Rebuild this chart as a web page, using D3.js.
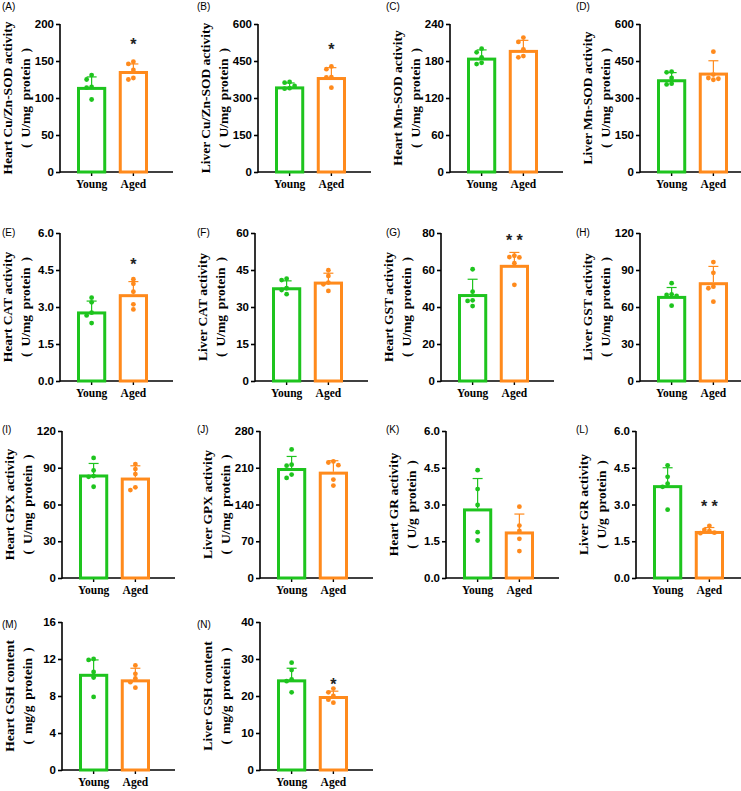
<!DOCTYPE html>
<html><head><meta charset="utf-8">
<script src="https://cdn.jsdelivr.net/npm/d3@7"></script>
<style>body{margin:0;background:#fff}svg{display:block}</style>
</head><body>
<svg id="c" width="741" height="791"></svg>
<script>
const panelLetters = ["(A)","(B)","(C)","(D)","(E)","(F)","(G)","(H)","(I)","(J)","(K)","(L)","(M)","(N)"];
const yTitles = ["Heart Cu/Zn-SOD activity","Liver Cu/Zn-SOD activity","Heart Mn-SOD activity","Liver Mn-SOD activity",
  "Heart CAT activity","Liver CAT activity","Heart GST activity","Liver GST activity",
  "Heart GPX activity","Liver GPX activity","Heart GR activity","Liver GR activity",
  "Heart GSH content","Liver GSH content"];
const yUnits = ["( U/mg protein )","( U/mg protein )","( U/mg protein )","( U/mg protein )",
  "( U/mg protein )","( U/mg protein )","( U/mg protein )","( U/mg protein )",
  "( U/mg protein )","( U/mg protein )","( U/g protein )","( U/g protein )",
  "( mg/g protein )","( mg/g protein )"];
const categories = ["Young","Aged"];
const yMax = [200,600,240,600,6,60,80,120,120,280,6,6,16,40];
const yStep = [50,150,60,150,1.5,15,20,30,30,70,1.5,1.5,4,10];
const youngMean = [115,347,185.5,376,2.82,38.0,47,69,84.5,209.5,2.84,3.79,10.4,24.5];
const youngSD = [13.5,14,12.5,27,0.42,2.6,8,6.8,9,22,1.22,0.71,1.5,3];
const agedMean = [136.5,385,198,403,3.52,40.3,62.8,80.1,82,202.6,1.90,1.92,9.8,20];
const agedSD = [9.5,38,15.5,48,0.51,3.4,6.7,12.8,9.6,20.8,0.71,0.14,1.2,1.3];
const youngPoints = [
  [131,125,115,114,98],[365,362,349,340,338],[200,194,186,177,175],[407,404,381,358,355],
  [3.38,3.19,2.77,2.66,2.35],[41.5,40.9,37.6,36.9,35.2],[60.4,48.3,43.6,43.3,40.5],[79.3,70.3,69.8,69,61.1],
  [98,87.8,83.2,82.6,74.5],[245,215.8,214,197,190.7],[4.40,3.63,2.98,1.87,1.53],[4.60,4.13,3.85,3.72,2.79],
  [12.0,11.9,10.6,10.0,7.9],[29,27,24.5,24,21]];
const agedPoints = [
  [149,146,138,127,125],[428,417,385,384,342],[218,211,199,188,186],[488,395,381,378,374],
  [4.13,3.94,3.62,3.11,2.90],[44.9,42.6,39.9,39.2,36.5],[67.7,67.0,66.8,63.7,52.0],[96.4,87.7,76.5,75.2,64.3],
  [93,88.9,84.8,74,71.8],[222,220,215,187.5,176],[2.91,2.14,1.92,1.60,1.10],[2.13,1.96,1.92,1.85,1.83],
  [11.3,10.4,9.9,9.5,8.9],[22,21,20,19,18.2]];
const sigMarks = ["*","*","","","*","","* *","","","","","* *","","*"];
const sigValue = [177,509,0,0,4.85,0,78,0,0,0,0,3.05,0,24];

// layout (positions only)
const axisXs = [60,258,450,640, 60,255,441,640, 62,260,446,636, 62,260];
const rowTop = [24,233,431,622];
const rowBottom = [172,381,578,770];
const letterX = [2,197,386,576];
const letterY = [10,236,433,628];
const green = "#1ec41e", orange = "#ff8a1c";
const colors = [green, orange];

const svg = d3.select("#c");

panelLetters.forEach((lab, i) => {
  const row = Math.floor(i/4), col = i%4;
  const ax = axisXs[i], top = rowTop[row], bot = rowBottom[row];
  const g = svg.append("g");
  const y = d3.scaleLinear().domain([0, yMax[i]]).range([bot, top]);
  const x = d3.scaleBand().domain(categories).range([ax+17, ax+88]).paddingInner(0.3).paddingOuter(0);
  const ticks = d3.range(0, yMax[i] + yStep[i]/2, yStep[i]);
  const fmt = yMax[i] <= 10 ? d3.format(".1f") : d3.format("d");

  svg.append("text").attr("x", letterX[col]).attr("y", letterY[row])
    .attr("font-family","Liberation Sans, Arial, sans-serif").attr("font-size",10).text(lab);

  const yAxis = d3.axisLeft(y).tickValues(ticks).tickFormat(fmt).tickSize(4).tickSizeOuter(0);
  const ya = g.append("g").attr("transform",`translate(${ax},0)`).call(yAxis);
  ya.select(".domain").attr("stroke","#000").attr("stroke-width",1.6).attr("d",`M0,${top}V${bot+0.8}`);
  ya.selectAll(".tick line").attr("stroke-width",1.6);
  ya.selectAll(".tick text").attr("font-family","Liberation Sans, Arial, sans-serif")
    .attr("font-weight","bold").attr("font-size",11.5).attr("fill","#000").attr("x",-6);

  const xAxis = d3.axisBottom(x).tickSize(4).tickSizeOuter(0);
  const xa = g.append("g").attr("transform",`translate(0,${bot})`).call(xAxis);
  xa.select(".domain").attr("stroke-width",1.6).attr("d",`M${ax},0H${ax+113}`);
  xa.selectAll(".tick line").attr("stroke-width",1.4);
  xa.selectAll(".tick text").attr("font-family","Liberation Serif, Times New Roman, serif")
    .attr("font-weight","bold").attr("font-size",11.5).attr("fill","#000").attr("y",8).attr("dy","0.71em");

  const cy = (top+bot)/2;
  g.append("text").attr("transform",`translate(${ax-48},${cy}) rotate(-90)`).attr("text-anchor","middle")
    .attr("font-family","Liberation Serif, Times New Roman, serif").attr("font-weight","bold").attr("font-size",13.5)
    .text(yTitles[i]);
  g.append("text").attr("transform",`translate(${ax-30},${cy}) rotate(-90)`).attr("text-anchor","middle")
    .attr("font-family","Liberation Serif, Times New Roman, serif").attr("font-weight","bold").attr("font-size",13.5)
    .attr("word-spacing", 2.5)
    .text(yUnits[i]);

  const means = [youngMean[i], agedMean[i]];
  const sds = [youngSD[i], agedSD[i]];
  const pts = [youngPoints[i], agedPoints[i]];

  categories.forEach((cat, k) => {
    const cx = x(cat) + x.bandwidth()/2;
    const c = colors[k];
    g.append("rect").attr("x", x(cat)+1.5).attr("width", x.bandwidth()-3)
      .attr("y", y(means[k])+1.5).attr("height", Math.max(0, bot - y(means[k]) - 1.5))
      .attr("fill","#fff").attr("stroke",c).attr("stroke-width",3);
    g.append("line").attr("x1",cx).attr("x2",cx).attr("y1",y(means[k])).attr("y2",y(means[k]+sds[k]))
      .attr("stroke",c).attr("stroke-width",1.2);
    g.append("line").attr("x1",cx-5).attr("x2",cx+5).attr("y1",y(means[k]+sds[k])).attr("y2",y(means[k]+sds[k]))
      .attr("stroke",c).attr("stroke-width",1.2);
    const placed = [];
    pts[k].slice().sort((a,b)=>b-a).forEach(v => {
      const py = y(v);
      const offs = [0,-5,5,-9,9];
      let off = 0;
      for (const o of offs) {
        if (!placed.some(p => Math.hypot(p[0]-o, p[1]-py) < 4.6)) { off = o; break; }
      }
      placed.push([off, py]);
      g.append("circle").attr("cx", cx+off).attr("cy", py).attr("r", 2.4).attr("fill", c);
    });
    if (k === 1 && sigMarks[i]) {
      g.append("text").attr("x", cx).attr("y", y(sigValue[i])).attr("text-anchor","middle")
        .attr("dy","0.55em").attr("font-family","Liberation Sans, Arial, sans-serif").attr("font-weight","bold")
        .attr("font-size",16).attr("fill","#222").text(sigMarks[i]);
    }
  });
});
</script>
</body></html>
